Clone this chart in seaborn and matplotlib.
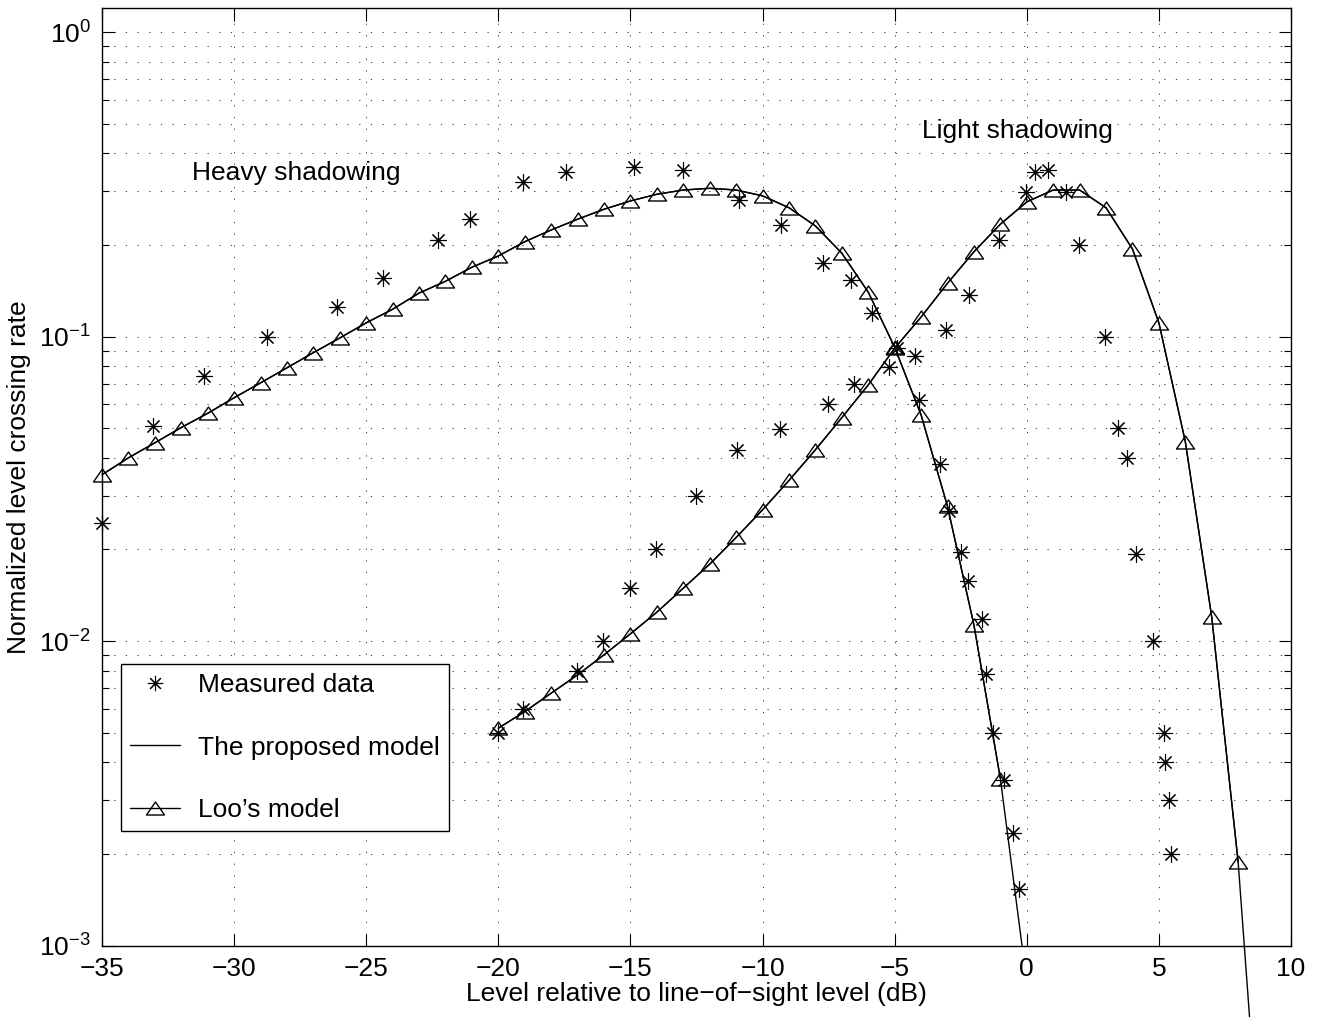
import matplotlib
matplotlib.use('Agg')
import matplotlib.pyplot as plt
from matplotlib.lines import Line2D
from matplotlib.path import Path
from matplotlib.ticker import LogLocator, MultipleLocator, NullFormatter, NullLocator
import seaborn as sns

# level relative to LOS level (dB) and normalized LCR
heavy_db = list(range(-35, 0))
heavy_loo = [0.0352, 0.040, 0.0448, 0.0503, 0.056, 0.063, 0.0705, 0.079, 0.0886, 0.099,
             0.111, 0.123, 0.139, 0.152, 0.169, 0.184, 0.205, 0.224, 0.243, 0.262,
             0.279, 0.2935, 0.303, 0.307, 0.303, 0.290, 0.265, 0.231, 0.188, 0.140,
             0.0923, 0.0553, 0.0277, 0.0113, 0.00354]

light_db = list(range(-20, 9))
light_loo = [0.00518, 0.00587, 0.00675, 0.00775, 0.00902, 0.01057, 0.01245, 0.01493, 0.0179, 0.0219,
             0.027, 0.0337, 0.0425, 0.0542, 0.0694, 0.0916, 0.116, 0.1497, 0.190, 0.234,
             0.277, 0.303, 0.303, 0.265, 0.194, 0.111, 0.0452, 0.0120, 0.00188]

# proposed model follows Loo's curve, running on past the last triangle
heavy_prop_db = heavy_db + [-0.18]
heavy_prop = heavy_loo + [0.001]
light_prop_db = light_db + [8.43]
light_prop = light_loo + [0.000585]

heavy_meas_db = [-35.0, -33.07, -31.13, -28.74, -26.11, -24.35, -22.29, -21.06, -19.05, -17.43,
                 -14.88, -13.01, -10.91, -9.29, -7.71, -6.65, -5.86, -4.91, -4.09, -3.28,
                 -2.93, -2.49, -2.24, -1.70, -1.53, -1.26, -0.88, -0.52, -0.28]
heavy_meas = [0.0244, 0.0509, 0.074, 0.100, 0.125, 0.156, 0.208, 0.243, 0.323, 0.347,
              0.361, 0.353, 0.281, 0.233, 0.174, 0.154, 0.120, 0.0916, 0.062, 0.0382,
              0.0268, 0.0196, 0.0158, 0.0118, 0.0078, 0.0050, 0.0035, 0.00235, 0.00153]

light_meas_db = [-20.03, -19.05, -17.03, -16.02, -15.01, -14.02, -12.51, -10.97, -9.33, -7.52,
                 -6.53, -5.23, -4.22, -3.05, -2.20, -1.07, -0.03, 0.32, 0.79, 1.50,
                 1.99, 2.97, 3.47, 3.79, 4.14, 4.76, 5.18, 5.24, 5.39, 5.47]
light_meas = [0.00499, 0.00598, 0.00801, 0.00998, 0.015, 0.020, 0.030, 0.0425, 0.0499, 0.060,
              0.0698, 0.0797, 0.0866, 0.105, 0.137, 0.208, 0.299, 0.348, 0.352, 0.299,
              0.200, 0.100, 0.050, 0.0399, 0.0193, 0.010, 0.005, 0.004, 0.003, 0.002]

sns.set_style('ticks')
plt.rcParams['font.family'] = ['Liberation Sans', 'DejaVu Sans']
plt.rcParams['mathtext.fontset'] = 'custom'
plt.rcParams['mathtext.rm'] = 'Liberation Sans'
plt.rcParams['font.size'] = 19
for key in ['text.color', 'axes.labelcolor', 'xtick.color', 'ytick.color', 'axes.edgecolor']:
    plt.rcParams[key] = 'black'

# wide, flat triangle like the MATLAB one
tri = Path([(-1, -0.72), (1, -0.72), (0, 0.72), (-1, -0.72)],
           [Path.MOVETO, Path.LINETO, Path.LINETO, Path.CLOSEPOLY])
star = (8, 2, 0)

fig = plt.figure(figsize=(13.19, 10.21), dpi=100)
ax = fig.add_axes([102 / 1319, 1 - 945.7 / 1021, 1189 / 1319, 937.7 / 1021])
ax.set_yscale('log')

dots = (0, (1.5, 12.5))
ax.xaxis.set_major_locator(MultipleLocator(5))
ax.xaxis.set_minor_locator(NullLocator())
ax.yaxis.set_major_locator(LogLocator(base=10))
ax.yaxis.set_minor_locator(LogLocator(base=10, subs=range(2, 10)))
ax.yaxis.set_minor_formatter(NullFormatter())
ax.grid(True, which='major', axis='both', linestyle=dots, linewidth=0.6, color='0.1')
ax.grid(True, which='minor', axis='y', linestyle=dots, linewidth=0.6, color='0.1')
ax.set_axisbelow(True)

for xs, ys in [(heavy_db, heavy_loo), (light_db, light_loo)]:
    sns.lineplot(x=xs, y=ys, ax=ax, sort=False, estimator=None, color='k', lw=1.0,
                 marker=tri, ms=13, mew=1.0, mfc='none', mec='k', clip_on=False)
sns.lineplot(x=heavy_prop_db, y=heavy_prop, ax=ax, sort=False, estimator=None, color='k', lw=1.0)
sns.lineplot(x=light_prop_db, y=light_prop, ax=ax, sort=False, estimator=None, color='k', lw=1.0,
             clip_on=False)
for xs, ys in [(heavy_meas_db, heavy_meas), (light_meas_db, light_meas)]:
    sns.lineplot(x=xs, y=ys, ax=ax, sort=False, estimator=None, color='k', linestyle='none',
                 marker=star, ms=12, mew=0.8, mec='k', clip_on=False)

ax.set_xlim(-35, 10)
ax.set_ylim(1e-3, 1.2)
ax.tick_params(which='both', direction='in', top=True, right=True, width=0.8, labelsize=19)
ax.tick_params(which='major', length=9, pad=8)
ax.tick_params(which='minor', length=5)
for s in ax.spines.values():
    s.set_linewidth(1.0)

ax.set_xlabel('Level relative to line\u2212of\u2212sight level (dB)', fontsize=19, labelpad=1)
ax.set_ylabel('Normalized level crossing rate', fontsize=19, labelpad=6)

ax.text(-31.6, 0.345, 'Heavy shadowing', ha='left', va='center', fontsize=19)
ax.text(-3.97, 0.473, 'Light shadowing', ha='left', va='center', fontsize=19)

handles = [
    Line2D([], [], color='k', linestyle='none', marker=star, ms=11, mew=0.8),
    Line2D([], [], color='k', lw=1.0),
    Line2D([], [], color='k', lw=1.0, marker=tri, ms=13, mew=1.0, mfc='none'),
]
leg = ax.legend(handles, ['Measured data', 'The proposed model', 'Loo\u2019s model'],
                loc='upper left', bbox_to_anchor=(121 / 1319, 1 - 664 / 1021),
                bbox_transform=fig.transFigure, borderaxespad=0, fontsize=19,
                frameon=True, fancybox=False, edgecolor='k', framealpha=1,
                handlelength=1.9, handletextpad=0.65, labelspacing=1.45, borderpad=0.35)
leg.get_frame().set_linewidth(1.0)

fig.savefig('out.png', dpi=100)
